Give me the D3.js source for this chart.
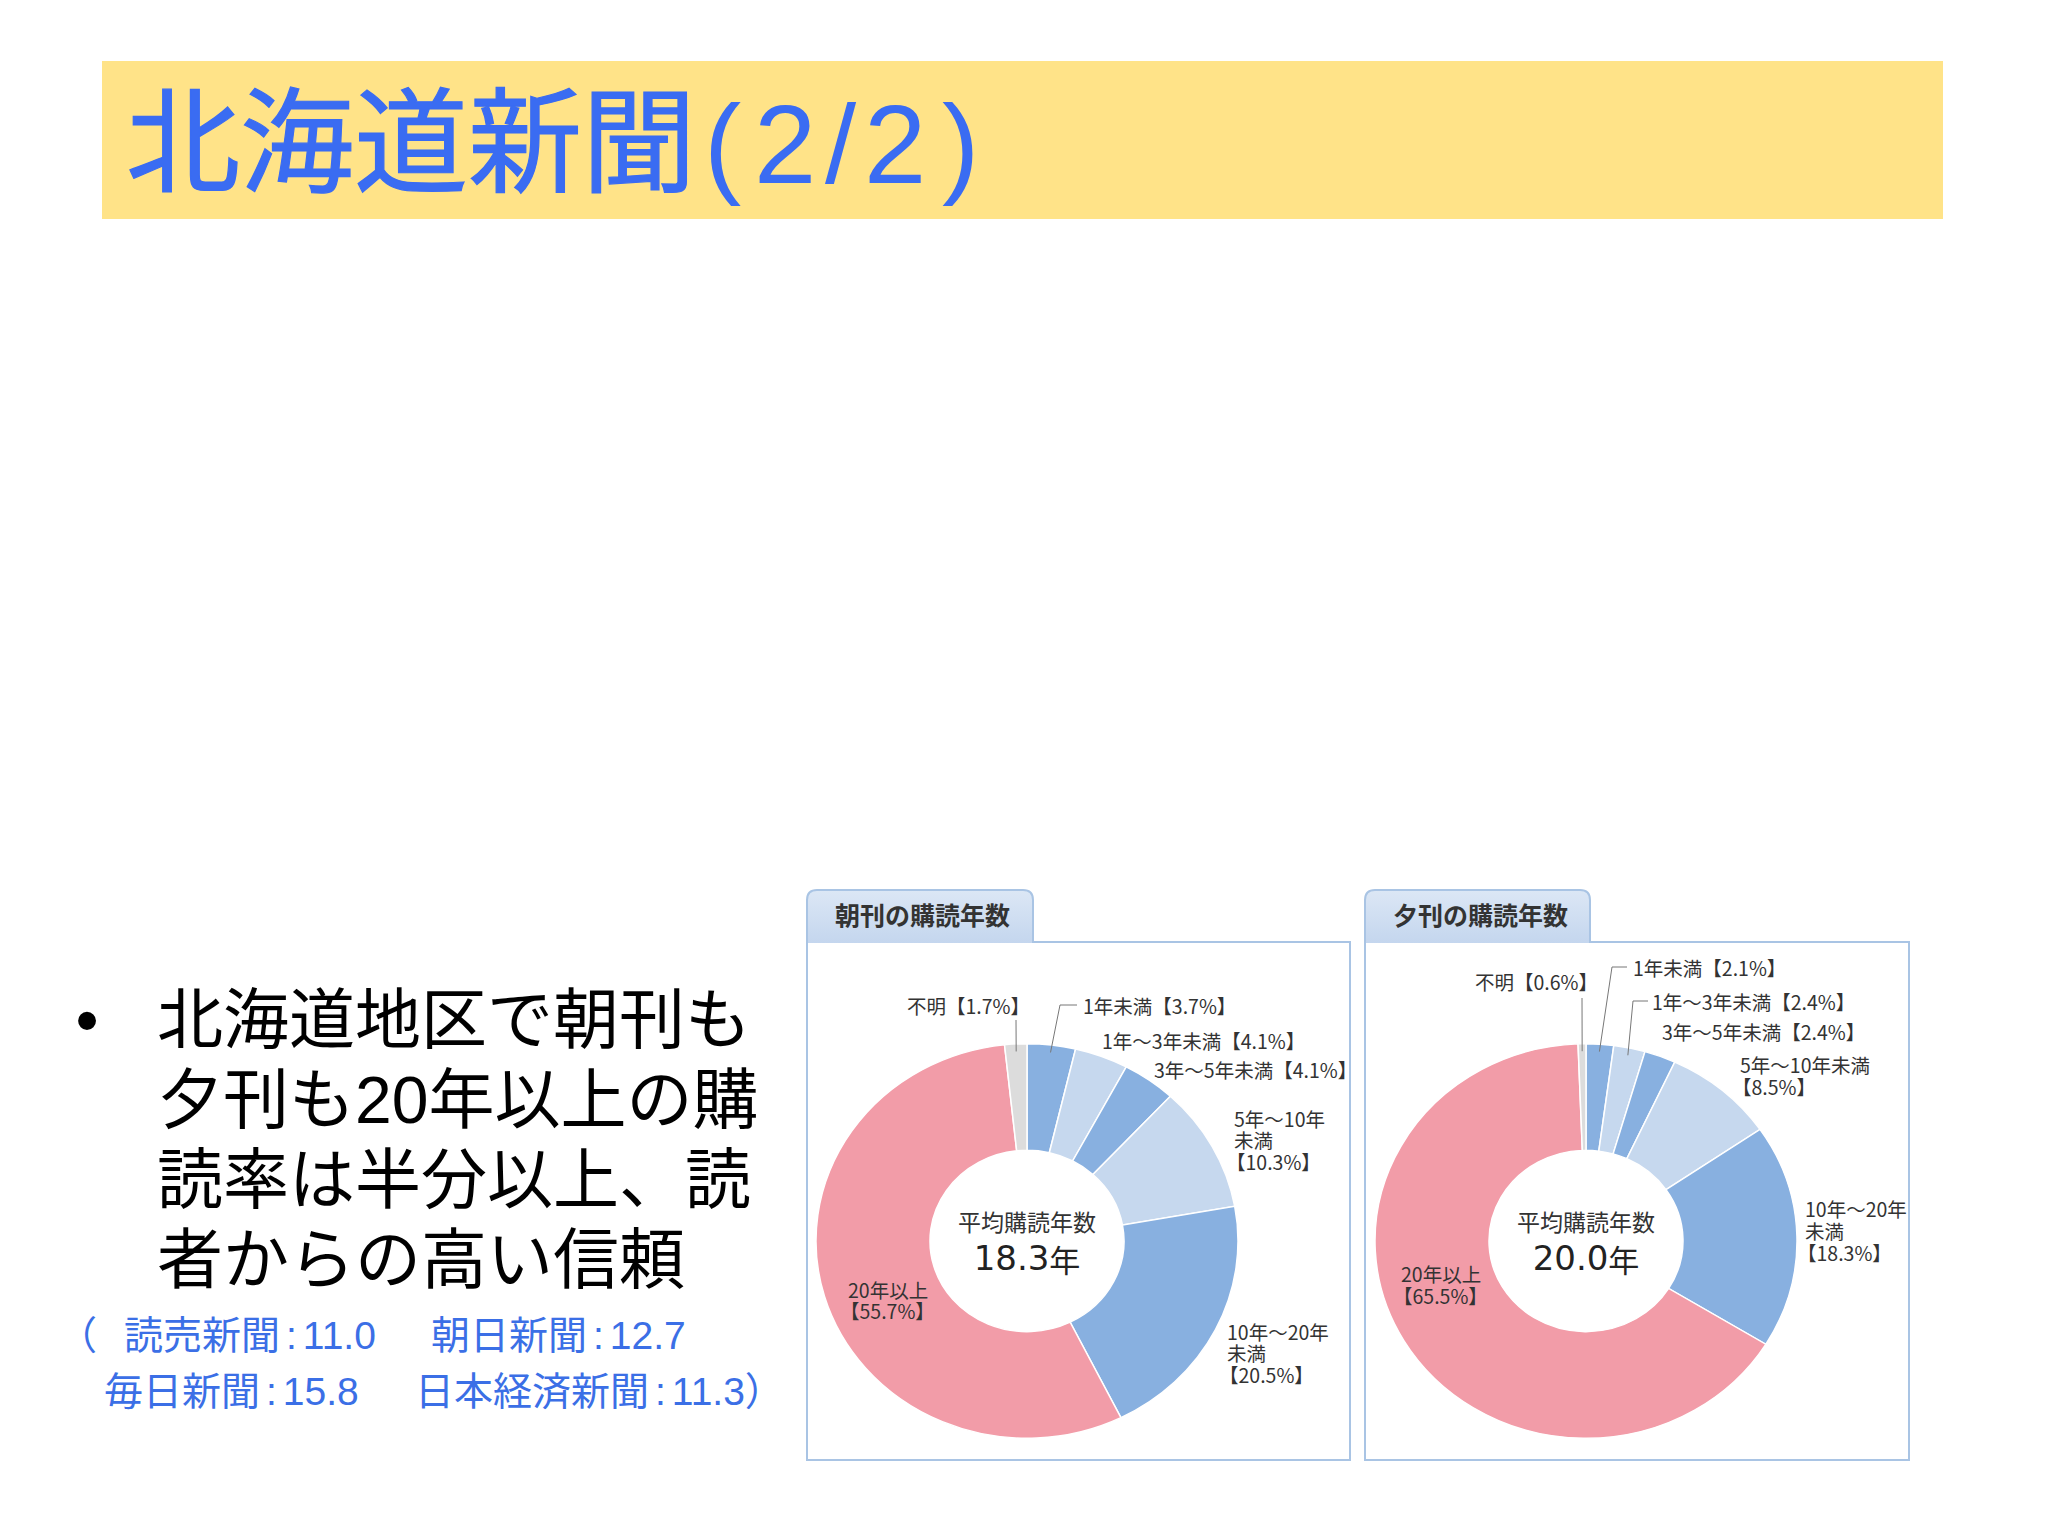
<!DOCTYPE html>
<html>
<head>
<meta charset="utf-8">
<script src="https://cdn.jsdelivr.net/npm/d3@7/dist/d3.min.js"></script>
<style>
  body { margin: 0; background: #fff; }
  svg { display: block; }
</style>
</head>
<body>
<svg id="renderer" width="2048" height="1536"></svg>
<script>
// ---- data ----
const titleMain = '北海道新聞';
const titlePage = '(2/2)';
const bulletLines = ['北海道地区で朝刊も', '夕刊も20年以上の購', '読率は半分以上、読', '者からの高い信頼'];
const otherPapers = ['読売新聞', '朝日新聞', '毎日新聞', '日本経済新聞'];
const otherYears = ['11.0', '12.7', '15.8', '11.3'];

const categories = ['1年未満', '1年〜3年未満', '3年〜5年未満', '5年〜10年未満', '10年〜20年未満', '20年以上', '不明'];
const morningShare = [3.7, 4.1, 4.1, 10.3, 20.5, 55.7, 1.7];
const eveningShare = [2.1, 2.4, 2.4, 8.5, 18.3, 65.5, 0.6];
const panelTitles = ['朝刊の購読年数', '夕刊の購読年数'];
const averageYears = ['18.3', '20.0'];

// ---- layout ----
const JP = '"Liberation Sans", "Noto Sans CJK JP", sans-serif';
const CHART_FONT = '"Noto Sans CJK JP", sans-serif';
const COLORS = ['#88b0e0', '#c6d8ee', '#88b0e0', '#c6d8ee', '#88b0e0', '#f29ca8', '#dcdcdc'];
const OUTER_R = 211, INNER_R = 97, SQUASH = 0.935;
const PANEL_TOP = 890, TAB_BOTTOM = 942, PANEL_BOTTOM = 1460, CY = 1241;

// label placement relative to donut centre; mode: one line / name+pct / name,未満,pct
const morningLabels = [
    {dx: 56, dy: -236, mode: 1, leader: [[33, -236], [50, -236]]},
    {dx: 75, dy: -201, mode: 1},
    {dx: 127, dy: -172, mode: 1},
    {dx: 207, dy: -123, mode: 3},
    {dx: 200, dy: 90, mode: 3},
    {dx: -179, dy: 48, mode: 2},
    {dx: 3, dy: -236, mode: 1, anchor: 'end', leader: [[-11, -221]]}
];
const eveningLabels = [
    {dx: 47, dy: -274, mode: 1, leader: [[26, -274], [41, -274]]},
    {dx: 66, dy: -240, mode: 1, leader: [[47, -240], [62, -240]]},
    {dx: 76, dy: -210, mode: 1},
    {dx: 154, dy: -177, mode: 2},
    {dx: 219, dy: -33, mode: 3},
    {dx: -185, dy: 32, mode: 2},
    {dx: 12, dy: -260, mode: 1, anchor: 'end', leader: [[-4, -243]]}
];

const panels = [
    {title: panelTitles[0], values: morningShare, avg: averageYears[0], x: 807, w: 543, tabW: 226, cx: 1027, labels: morningLabels, lh: 21.5},
    {title: panelTitles[1], values: eveningShare, avg: averageYears[1], x: 1365, w: 544, tabW: 225, cx: 1586, labels: eveningLabels, lh: 22}
];

const svg = d3.select('#renderer');

// title band
svg.append('rect')
    .attr('x', 102).attr('y', 61)
    .attr('width', 1841).attr('height', 158)
    .attr('fill', '#ffe388');

svg.append('text')
    .attr('x', 126).attr('y', 183)
    .attr('font-family', '"Noto Sans CJK JP", sans-serif')
    .attr('font-size', 114)
    .attr('font-weight', 400)
    .attr('fill', '#3a6cf2')
    .attr('stroke', '#3a6cf2')
    .attr('stroke-width', 1.2)
    .text(titleMain);

svg.append('text')
    .attr('x', '704 754 825 864 942')
    .attr('y', 183)
    .attr('font-family', '"Liberation Sans", sans-serif')
    .attr('font-size', 112)
    .attr('fill', '#3a6cf2')
    .text(titlePage);

// bullet text
svg.append('text')
    .attr('x', 87).attr('y', 1020)
    .attr('text-anchor', 'middle')
    .attr('dominant-baseline', 'central')
    .attr('font-family', JP)
    .attr('font-size', 66)
    .text('•');

bulletLines.forEach(function (line, i) {
    svg.append('text')
        .attr('x', 157).attr('y', 1020 + i * 80)
        .attr('dominant-baseline', 'central')
        .attr('font-family', JP)
        .attr('font-size', 66)
        .attr('fill', '#000')
        .text(line);
});

// other papers note
const noteColor = '#3b6fe6';
const notePos = [[124, 1335], [431, 1335], [104, 1391], [415, 1391]];
svg.append('text')
    .attr('x', 58).attr('y', 1335)
    .attr('dominant-baseline', 'central')
    .attr('font-family', JP).attr('font-size', 39)
    .attr('fill', noteColor)
    .text('（');

otherPapers.forEach(function (name, i) {
    let t = svg.append('text')
        .attr('x', notePos[i][0]).attr('y', notePos[i][1])
        .attr('dominant-baseline', 'central')
        .attr('font-family', JP).attr('font-size', 39)
        .attr('fill', noteColor);
    t.append('tspan').text(name);
    t.append('tspan').attr('dx', 6).text(':');
    t.append('tspan').attr('dx', 6).text(otherYears[i] + (i === otherPapers.length - 1 ? '）' : ''));
});

// donut charts
const arc = d3.arc().innerRadius(INNER_R).outerRadius(OUTER_R);
const pie = d3.pie().sort(null).value(function (d) { return d; });

const grad = svg.append('defs').append('linearGradient')
    .attr('id', 'tabGrad').attr('x1', 0).attr('y1', 0).attr('x2', 0).attr('y2', 1);
grad.append('stop').attr('offset', '0%').attr('stop-color', '#dce7f5');
grad.append('stop').attr('offset', '100%').attr('stop-color', '#c4d6ee');

panels.forEach(function (p) {
    const g = svg.append('g');

    // box
    g.append('rect')
        .attr('x', p.x).attr('y', TAB_BOTTOM)
        .attr('width', p.w).attr('height', PANEL_BOTTOM - TAB_BOTTOM)
        .attr('fill', '#fff')
        .attr('stroke', '#a9c4e4').attr('stroke-width', 2);

    // tab
    const r = 10;
    g.append('path')
        .attr('d', 'M' + p.x + ',' + (TAB_BOTTOM + 1) +
            'V' + (PANEL_TOP + r) +
            'Q' + p.x + ',' + PANEL_TOP + ' ' + (p.x + r) + ',' + PANEL_TOP +
            'H' + (p.x + p.tabW - r) +
            'Q' + (p.x + p.tabW) + ',' + PANEL_TOP + ' ' + (p.x + p.tabW) + ',' + (PANEL_TOP + r) +
            'V' + (TAB_BOTTOM + 1))
        .attr('fill', 'url(#tabGrad)')
        .attr('stroke', '#a9c4e4').attr('stroke-width', 2);

    g.append('text')
        .attr('x', p.x + 28).attr('y', 914)
        .attr('dominant-baseline', 'central')
        .attr('font-family', CHART_FONT)
        .attr('font-size', 25)
        .attr('font-weight', 700)
        .attr('fill', '#333')
        .text(p.title);

    const arcs = pie(p.values);
    const ring = g.append('g')
        .attr('transform', 'translate(' + p.cx + ',' + CY + ') scale(1,' + SQUASH + ')');

    ring.selectAll('path')
        .data(arcs)
        .enter().append('path')
        .attr('d', arc)
        .attr('fill', function (d, i) { return COLORS[i]; })
        .attr('stroke', '#fff')
        .attr('stroke-width', 1.5);

    const lg = g.append('g').attr('transform', 'translate(' + p.cx + ',' + CY + ')');

    // leader lines
    arcs.forEach(function (a, i) {
        const lab = p.labels[i];
        if (!lab.leader) return;
        const mid = (a.startAngle + a.endAngle) / 2;
        const rr = OUTER_R - 8;
        const pts = [[rr * Math.sin(mid), -rr * Math.cos(mid) * SQUASH]].concat(lab.leader);
        lg.append('path')
            .attr('d', d3.line()(pts))
            .attr('fill', 'none')
            .attr('stroke', '#777')
            .attr('stroke-width', 1);
    });

    // labels
    arcs.forEach(function (a, i) {
        const lab = p.labels[i];
        const name = categories[i];
        const pct = '【' + p.values[i].toFixed(1) + '%】';
        let lines;
        if (lab.mode === 1) lines = [name + pct];
        else if (lab.mode === 2) lines = [name, pct];
        else lines = [name.replace('未満', ''), '未満', pct];

        const t = lg.append('text')
            .attr('font-family', CHART_FONT)
            .attr('font-size', 19.5)
            .attr('fill', '#333')
            .attr('text-anchor', lab.anchor || 'start');
        lines.forEach(function (s, j) {
            t.append('tspan')
                .attr('x', lab.dx - (s.charAt(0) === '【' ? 8 : 0))
                .attr('y', lab.dy + j * p.lh)
                .attr('dominant-baseline', 'central')
                .text(s);
        });
    });

    // centre text
    lg.append('text')
        .attr('x', 0).attr('y', -20)
        .attr('text-anchor', 'middle')
        .attr('dominant-baseline', 'central')
        .attr('font-family', CHART_FONT)
        .attr('font-size', 23)
        .attr('fill', '#333')
        .text('平均購読年数');

    const avg = lg.append('text')
        .attr('x', 0).attr('y', 17)
        .attr('text-anchor', 'middle')
        .attr('dominant-baseline', 'central')
        .attr('fill', '#222');
    avg.append('tspan')
        .attr('font-family', '"DejaVu Sans", sans-serif')
        .attr('font-size', 34)
        .text(p.avg);
    avg.append('tspan')
        .attr('font-family', CHART_FONT)
        .attr('font-size', 31)
        .text('年');
});
</script>
</body>
</html>
